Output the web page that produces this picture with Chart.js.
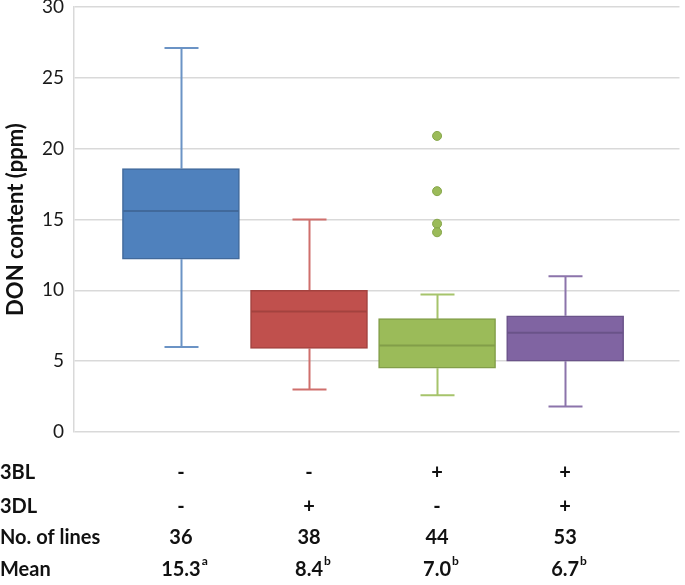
<!DOCTYPE html>
<html>
<head>
<meta charset="utf-8">
<script src="https://cdn.jsdelivr.net/npm/chart.js@4.4.0/dist/chart.umd.min.js"></script>
<style>
  html, body { margin: 0; padding: 0; background: #fff; }
</style>
</head>
<body>
<canvas id="myChart" width="685" height="585"></canvas>
<script>
// box plot values (ppm)
var groups = [1, 2, 3, 4];
var whiskerLow = [6.0, 3.0, 2.6, 1.8];
var q1 = [12.2, 5.9, 4.5, 5.0];
var median = [15.6, 8.5, 6.1, 7.0];
var q3 = [18.6, 10.0, 8.0, 8.2];
var whiskerHigh = [27.1, 15.0, 9.7, 11.0];
var outlierGroup = [3, 3, 3, 3];
var outlierValues = [20.9, 17.0, 14.7, 14.1];

// table under the plot
var rowLabels = ['3BL', '3DL', 'No. of lines', 'Mean'];
var row3BL = ['-', '-', '+', '+'];
var row3DL = ['-', '+', '-', '+'];
var noOfLines = ['36', '38', '44', '53'];
var meanValues = ['15.3', '8.4', '7.0', '6.7'];
var meanLetters = ['a', 'b', 'b', 'b'];

var fillColors = ['#4F81BD', '#C0504D', '#9BBB59', '#8064A2'];
var edgeColors = ['#41699B', '#A3423F', '#829E49', '#6A5389'];
var whiskerColors = ['#6B93C5', '#CF6F6C', '#A6C46B', '#8C74AB'];

var boxPlotLines = {
    id: 'boxPlotLines',
    beforeDatasetsDraw: function(chart) {
        var ctx = chart.ctx, xs = chart.scales.x, ys = chart.scales.y;
        ctx.save();
        ctx.lineWidth = 2;
        groups.forEach(function(g, i) {
            var cx = Math.round(xs.getPixelForValue(g)) + 0.5;
            var lo = ys.getPixelForValue(whiskerLow[i]);
            var hi = ys.getPixelForValue(whiskerHigh[i]);
            ctx.strokeStyle = whiskerColors[i];
            ctx.beginPath();
            ctx.moveTo(cx, lo); ctx.lineTo(cx, ys.getPixelForValue(q1[i]));
            ctx.moveTo(cx, hi); ctx.lineTo(cx, ys.getPixelForValue(q3[i]));
            ctx.moveTo(cx - 17, lo); ctx.lineTo(cx + 17, lo);
            ctx.moveTo(cx - 17, hi); ctx.lineTo(cx + 17, hi);
            ctx.stroke();
        });
        ctx.restore();
    },
    afterDatasetsDraw: function(chart) {
        var ctx = chart.ctx, xs = chart.scales.x, ys = chart.scales.y;
        ctx.save();
        ctx.lineWidth = 2;
        groups.forEach(function(g, i) {
            var cx = xs.getPixelForValue(g);
            var my = ys.getPixelForValue(median[i]);
            ctx.strokeStyle = edgeColors[i];
            ctx.beginPath();
            ctx.moveTo(cx - 58, my); ctx.lineTo(cx + 58, my);
            ctx.stroke();
        });
        ctx.restore();
    },
    afterDraw: function(chart) {
        var ctx = chart.ctx, xs = chart.scales.x;
        var top = chart.chartArea.bottom;
        var rowY = [top + 41, top + 75, top + 106, top + 138];
        var rows = [row3BL, row3DL, noOfLines, meanValues];
        ctx.save();
        ctx.fillStyle = '#111';
        ctx.textBaseline = 'middle';
        rowLabels.forEach(function(lab, r) {
            ctx.textAlign = 'left';
            ctx.font = 'bold 20px Lato';
            ctx.fillText(lab, 0, rowY[r]);
            groups.forEach(function(g, i) {
                var cx = xs.getPixelForValue(g);
                var txt = rows[r][i];
                ctx.font = 'bold 20px Lato';
                ctx.textAlign = 'center';
                ctx.fillText(txt, cx, rowY[r]);
                if (r === 3) {
                    var w = ctx.measureText(txt).width;
                    ctx.font = 'bold 12px Lato';
                    ctx.textAlign = 'left';
                    ctx.fillText(meanLetters[i], cx + w / 2 + 1, rowY[r] - 9);
                }
            });
        });
        ctx.restore();
    }
};

var ctxx = document.getElementById('myChart');
var myChartt = new Chart(ctxx, {
    type: 'bar',
    data: {
        datasets: [{
            data: groups.map(function(g, i) { return { x: g, y: [q1[i], q3[i]] }; }),
            backgroundColor: fillColors,
            borderColor: edgeColors,
            borderWidth: 1.5,
            borderSkipped: false,
            barThickness: 117
        }, {
            type: 'scatter',
            data: outlierGroup.map(function(g, i) { return { x: g, y: outlierValues[i] }; }),
            backgroundColor: '#9BBB59',
            borderColor: '#86A64A',
            borderWidth: 1,
            pointRadius: 4.5
        }]
    },
    options: {
        responsive: false,
        animation: false,
        layout: { padding: { left: 0, right: 2, top: 0, bottom: 153 } },
        plugins: {
            legend: { display: false },
            tooltip: { enabled: false }
        },
        scales: {
            x: {
                type: 'linear',
                offset: false,
                min: 0.165,
                max: 4.893,
                display: false
            },
            y: {
                min: 0,
                max: 30,
                ticks: {
                    stepSize: 5,
                    padding: 10,
                    color: '#1a1a1a',
                    font: { family: 'Lato', size: 19 }
                },
                grid: {
                    color: '#D9D9D9',
                    lineWidth: 1.5,
                    drawTicks: false
                },
                border: { color: '#D9D9D9', width: 1.5 },
                title: {
                    display: true,
                    text: 'DON content (ppm)',
                    color: '#111',
                    font: { family: 'Lato', size: 22, weight: 'bold' },
                    padding: { top: 3, bottom: 4 }
                },
                afterFit: function(s) {
                    s.width = 74;
                    s.paddingTop = 7;
                }
            }
        }
    },
    plugins: [boxPlotLines]
});
</script>
</body>
</html>
